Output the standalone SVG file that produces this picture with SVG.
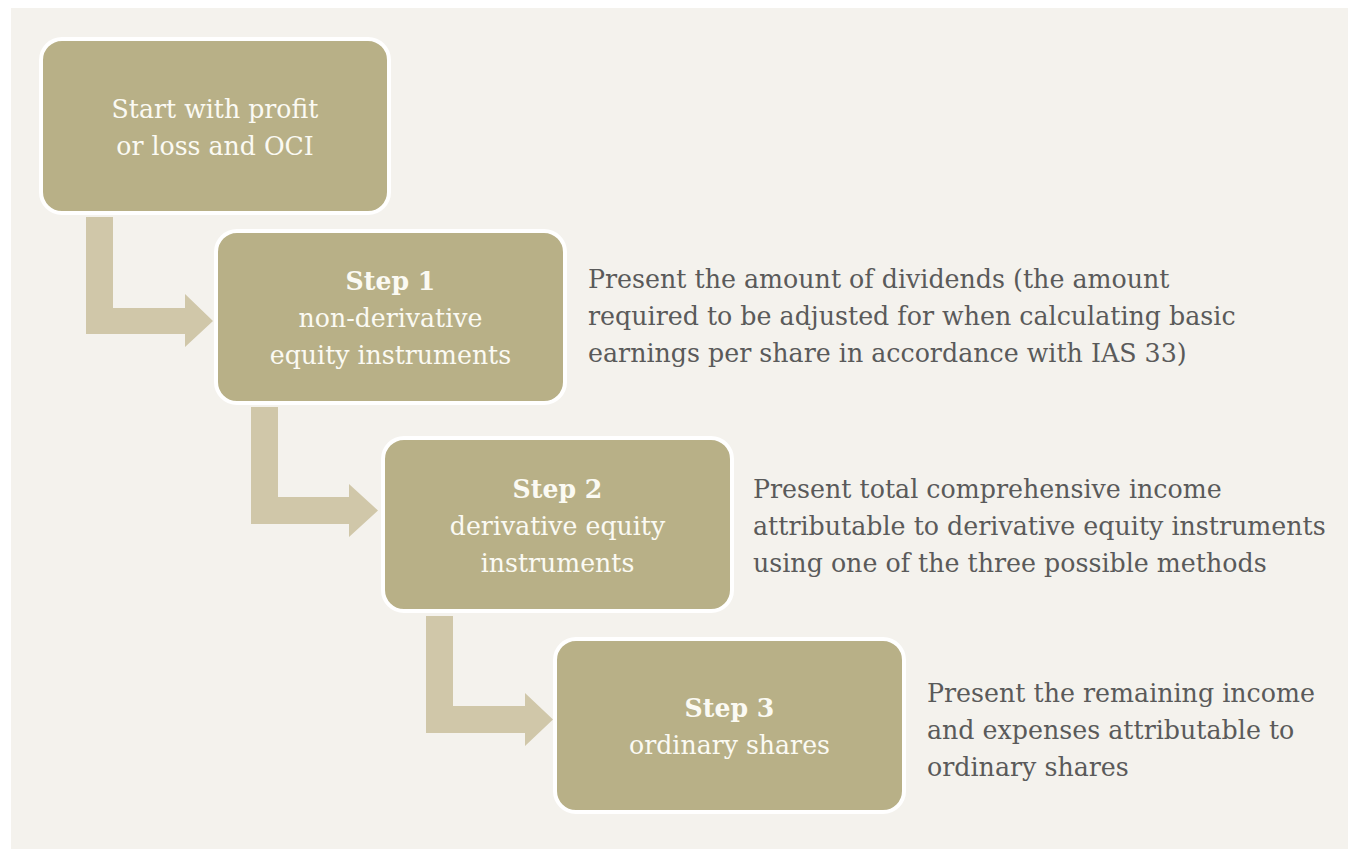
<svg xmlns="http://www.w3.org/2000/svg" width="1348" height="849" viewBox="0 0 1348 849">
<style>
.box{fill:#b8b087;stroke:#ffffff;stroke-width:4}
.arr{fill:#d0c7a9}
.bt{font-family:"DejaVu Serif","Liberation Serif",serif;font-size:25.2px;fill:#fbfaf3;text-anchor:middle}
.bt .b{font-weight:bold}
.side{font-family:"DejaVu Serif","Liberation Serif",serif;font-size:25.3px;fill:#5a5a5a}
</style>
<rect x="0" y="0" width="1348" height="849" fill="#ffffff"/>
<rect x="11" y="8" width="1337" height="841" fill="#f4f2ed"/>
<g id="connectors">
<polygon class="arr" points="86,217 113,217 113,308 185,308 185,294 213,321 185,347 185,334 86,334"/>
<polygon class="arr" points="251,407 278,407 278,497 349,497 349,484 378,510.5 349,537 349,524 251,524"/>
<polygon class="arr" points="426,616 453,616 453,706 525,706 525,693 553,719.5 525,746 525,733 426,733"/>
</g>
<g id="start">
<rect class="box" x="41" y="39" width="348" height="174" rx="21"/>
<text class="bt" x="215" y="118">Start with profit</text>
<text class="bt" x="215" y="155">or loss and OCI</text>
</g>
<g id="step1">
<rect class="box" x="216" y="231" width="349" height="172" rx="21"/>
<text class="bt" x="390.5" y="290"><tspan class="b">Step 1</tspan></text>
<text class="bt" x="390.5" y="327">non-derivative</text>
<text class="bt" x="390.5" y="364">equity instruments</text>
</g>
<g id="step1-note">
<text class="side" x="588" y="288">Present the amount of dividends (the amount</text>
<text class="side" x="588" y="325">required to be adjusted for when calculating basic</text>
<text class="side" x="588" y="362">earnings per share in accordance with IAS 33)</text>
</g>
<g id="step2">
<rect class="box" x="383" y="438" width="349" height="173" rx="21"/>
<text class="bt" x="557.5" y="498"><tspan class="b">Step 2</tspan></text>
<text class="bt" x="557.5" y="535">derivative equity</text>
<text class="bt" x="557.5" y="572">instruments</text>
</g>
<g id="step2-note">
<text class="side" x="753" y="498">Present total comprehensive income</text>
<text class="side" x="753" y="535">attributable to derivative equity instruments</text>
<text class="side" x="753" y="572">using one of the three possible methods</text>
</g>
<g id="step3">
<rect class="box" x="555" y="639" width="349" height="173" rx="21"/>
<text class="bt" x="729.5" y="717"><tspan class="b">Step 3</tspan></text>
<text class="bt" x="729.5" y="754">ordinary shares</text>
</g>
<g id="step3-note">
<text class="side" x="927" y="702">Present the remaining income</text>
<text class="side" x="927" y="739">and expenses attributable to</text>
<text class="side" x="927" y="776">ordinary shares</text>
</g>
</svg>
